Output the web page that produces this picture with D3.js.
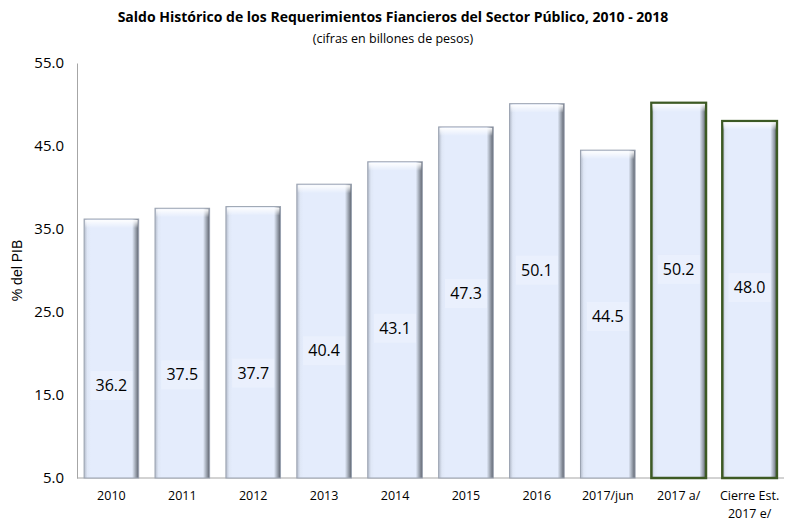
<!DOCTYPE html>
<html>
<head>
<meta charset="utf-8">
<script src="https://cdn.jsdelivr.net/npm/d3@7"></script>
<style>
  body { margin: 0; background: #fff; }
  text { font-family: "Liberation Sans Narrow", "Open Sans", sans-serif; fill: #000; }
</style>
</head>
<body>
<div id="chart-area"></div>
<script>
var categories = ['2010', '2011', '2012', '2013', '2014', '2015', '2016', '2017/jun', '2017 a/', 'Cierre Est.|2017 e/'];
var values = [36.2, 37.5, 37.7, 40.4, 43.1, 47.3, 50.1, 44.5, 50.2, 48.0];
var highlighted = [false, false, false, false, false, false, false, false, true, true];
var yTicks = [5, 15, 25, 35, 45, 55];

var data = categories.map((c, i) => ({ cat: c, value: values[i], hi: highlighted[i] }));

var svg = d3.select("#chart-area").append("svg")
    .attr("width", 786)
    .attr("height", 527)

var defs = svg.append('defs')

var sideGrad = defs.append('linearGradient').attr('id', 'side')
    .attr('x1', 0).attr('x2', 1).attr('y1', 0).attr('y2', 0)
sideGrad.append('stop').attr('offset', '0%').attr('stop-color', '#b4bccb')
sideGrad.append('stop').attr('offset', '6%').attr('stop-color', '#dfe7f6')
sideGrad.append('stop').attr('offset', '12%').attr('stop-color', '#e4ecfc')
sideGrad.append('stop').attr('offset', '88%').attr('stop-color', '#e4ecfc')
sideGrad.append('stop').attr('offset', '92%').attr('stop-color', '#b7bfcc')
sideGrad.append('stop').attr('offset', '100%').attr('stop-color', '#5c626d')

var topGrad = defs.append('linearGradient').attr('id', 'topbevel')
    .attr('x1', 0).attr('x2', 0).attr('y1', 0).attr('y2', 1)
topGrad.append('stop').attr('offset', '0%').attr('stop-color', '#ffffff').attr('stop-opacity', 0.95)
topGrad.append('stop').attr('offset', '100%').attr('stop-color', '#ffffff').attr('stop-opacity', 0)

var x = d3.scaleBand()
    .domain(categories)
    .range([77, 784])
    .paddingInner(0.23)
    .paddingOuter(0.1)

var y = d3.scaleLinear()
    .domain([5, 55])
    .range([478, 63])

// title
svg.append('text')
    .attr('x', 393).attr('y', 22)
    .attr('text-anchor', 'middle')
    .style('font-size', '14px')
    .style('font-weight', 'bold')
    .text('Saldo Histórico de los Requerimientos Fiancieros del Sector Público, 2010 - 2018')

svg.append('text')
    .attr('x', 393).attr('y', 43)
    .attr('text-anchor', 'middle')
    .style('font-size', '12.5px')
    .text('(cifras en billones de pesos)')

// axes
var yAxis = svg.append('g')
    .attr('transform', 'translate(77,0)')
    .call(d3.axisLeft(y).tickValues(yTicks).tickSize(0).tickPadding(13).tickFormat(d3.format('.1f')))
yAxis.select('.domain').attr('stroke', '#a6a6a6')
yAxis.selectAll('text').style('font-size', '15px')

svg.append('line')
    .attr('x1', 77).attr('x2', 784)
    .attr('y1', y(5)).attr('y2', y(5))
    .attr('stroke', '#a6a6a6')

svg.append('text')
    .attr('transform', 'translate(22,' + y(30) + ') rotate(-90)')
    .attr('text-anchor', 'middle')
    .style('font-family', '"Liberation Sans", Arial, sans-serif')
    .style('font-size', '14px')
    .text('% del PIB')

// bars
var bars = svg.selectAll('g.bar')
    .data(data)
    .enter()
    .append('g')
    .attr('class', 'bar')

bars.append('rect')
    .attr('x', (d) => x(d.cat))
    .attr('y', (d) => y(d.value))
    .attr('width', x.bandwidth())
    .attr('height', (d) => y(5) - y(d.value))
    .attr('fill', 'url(#side)')
    .attr('stroke', (d) => d.hi ? '#3d5a24' : '#9aa2b0')
    .attr('stroke-width', (d) => d.hi ? 2.5 : 1)

bars.append('rect')
    .attr('x', (d) => x(d.cat) + 1)
    .attr('y', (d) => y(d.value) + 1)
    .attr('width', x.bandwidth() - 2)
    .attr('height', 8)
    .attr('fill', 'url(#topbevel)')

// value labels with light box
bars.append('rect')
    .attr('x', (d) => x(d.cat) + x.bandwidth() / 2 - 21)
    .attr('y', (d) => y(d.value - 20) - 14)
    .attr('width', 42)
    .attr('height', 29)
    .attr('fill', '#eef3fd')
    .attr('opacity', 0.6)

bars.append('text')
    .attr('x', (d) => x(d.cat) + x.bandwidth() / 2)
    .attr('y', (d) => y(d.value - 20) + 6)
    .attr('text-anchor', 'middle')
    .style('font-size', '16px')
    .text((d) => d.value.toFixed(1))

// category labels
bars.each(function (d) {
    var lines = d.cat.split('|')
    var t = d3.select(this).append('text')
        .attr('x', x(d.cat) + x.bandwidth() / 2)
        .attr('y', 500)
        .attr('text-anchor', 'middle')
        .style('font-size', '12.5px')
    lines.forEach((l, i) => {
        t.append('tspan')
            .attr('x', x(d.cat) + x.bandwidth() / 2)
            .attr('dy', i === 0 ? 0 : 18)
            .text(l)
    })
})
</script>
</body>
</html>
